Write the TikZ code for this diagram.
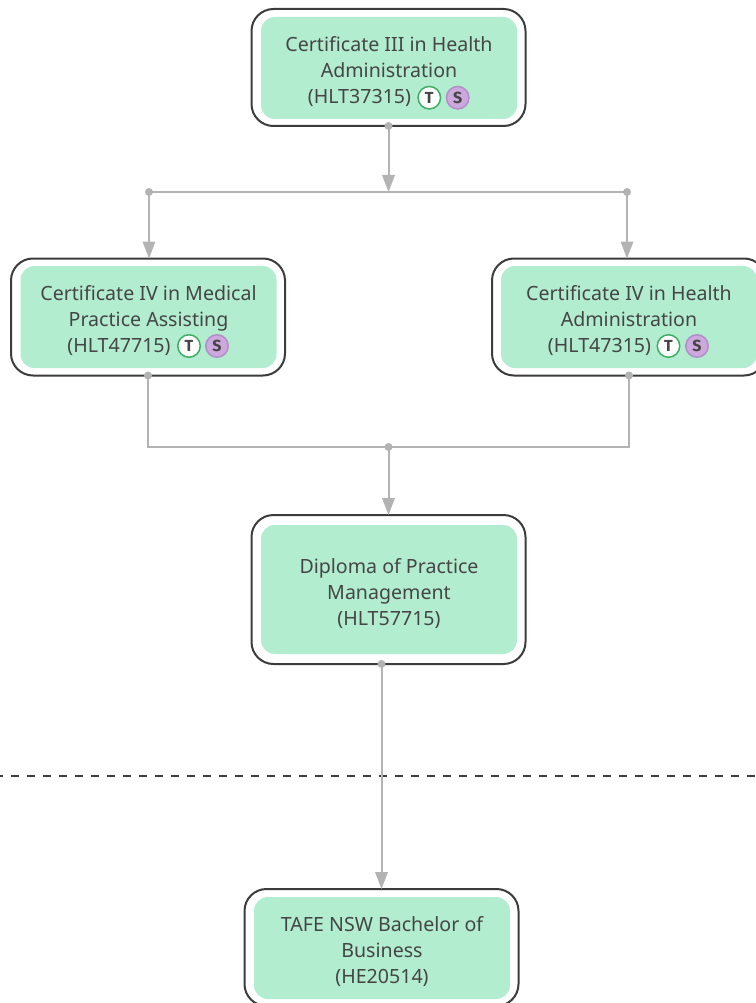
\documentclass[tikz,border=0pt]{standalone}
\usepackage{fontspec}
\setmainfont{Noto Sans}
\newfontfamily\badgefont{Fira Sans}
\usetikzlibrary{arrows.meta}
\definecolor{mintfill}{HTML}{B2EDD0}
\definecolor{boxline}{HTML}{3C3C3C}
\definecolor{textgrey}{HTML}{454545}
\definecolor{linkgrey}{HTML}{B3B3B3}
\definecolor{badgegreen}{HTML}{41AD63}
\definecolor{badgepurple}{HTML}{CDA8DC}
\definecolor{badgeedge}{HTML}{B28FC9}
\tikzset{
  outerbox/.style={draw=boxline, fill=white, line width=2pt, rounded corners=22pt, outer sep=0pt,
    minimum width=274pt, minimum height=117pt},
  innerbox/.style={fill=mintfill, rounded corners=14pt, inner sep=0pt, outer sep=0pt,
    minimum width=256pt, minimum height=102pt},
  boxtext/.style={text=textgrey, align=center, inner sep=0pt, yshift=-4pt, font=\fontsize{19.6}{26}\selectfont},
  badgeT/.style={circle, draw=badgegreen, fill=white, line width=1.5pt, minimum size=22.5pt, inner sep=0pt,
    text=textgrey, font=\fontsize{16}{16}\selectfont\badgefont\bfseries},
  badgeS/.style={badgeT, draw=badgeedge, fill=badgepurple},
  link/.style={draw=linkgrey, line width=2pt},
  arrowlink/.style={link, -{Triangle[length=17pt,width=12.5pt]}},
  dot/.style={circle, fill=linkgrey, minimum size=8pt, inner sep=0pt},
}
\newcommand{\badgespace}{\hspace*{59pt}}
\begin{document}
\begin{tikzpicture}[x=1pt,y=-1pt]
  \useasboundingbox (0,0) rectangle (755,1003);

  % Dashed boundary line
  \coordinate (dashleft) at (0,776);
  \coordinate (dashright) at (755,776);
  \draw [boxline, line width=2pt, dash pattern=on 8.5pt off 7.5pt, dash phase=5.5pt] (dashleft) -- (dashright);

  % Certificate III
  \node [outerbox] (certiiiouter) at (388.5,67.5) {};
  \node [innerbox] (certiii) at (389,68) {};
  \node [boxtext] (certiiitext) at (certiii) {Certificate III in Health\\Administration\\(HLT37315)\badgespace};
  \node [badgeT] (certiiit) at (429.3,97.7) {T};
  \node [badgeS] (certiiis) at (457.7,97.7) {S};

  % Certificate IV, medical
  \node [outerbox] (certmedouter) at (148,317) {};
  \node [innerbox] (certmed) at (148.5,317) {};
  \node [boxtext] (certmedtext) at (certmed) {Certificate IV in Medical\\Practice Assisting\\(HLT47715)\badgespace};
  \node [badgeT] (certmedt) at (189,346) {T};
  \node [badgeS] (certmeds) at (217,346) {S};

  % Certificate IV, administration
  \node [outerbox] (certadmouter) at (629,317) {};
  \node [innerbox] (certadm) at (629,317) {};
  \node [boxtext] (certadmtext) at (certadm) {Certificate IV in Health\\Administration\\(HLT47315)\badgespace};
  \node [badgeT] (certadmt) at (668.5,346) {T};
  \node [badgeS] (certadms) at (697,346) {S};

  % Diploma
  \node [outerbox, minimum height=149pt] (diplomaouter) at (388.5,589.5) {};
  \node [innerbox, minimum height=129pt] (diploma) at (389,589.5) {};
  \node [boxtext] (diplomatext) at (diploma) {Diploma of Practice\\Management\\(HLT57715)};

  % Bachelor
  \node [outerbox] (bachelorouter) at (381.5,947.5) {};
  \node [innerbox] (bachelor) at (382,948) {};
  \node [boxtext] (bachelortext) at (bachelor) {TAFE NSW Bachelor of\\Business\\(HE20514)};

  % Junctions
  \coordinate (topjoin) at (388.5,192);
  \coordinate (leftjoin) at (149,192);
  \coordinate (rightjoin) at (627,192);
  \coordinate (lowjoin) at (388.5,447);

  % Links from Certificate III
  \draw [link] (leftjoin) -- (rightjoin);
  \draw [arrowlink] (certiiiouter.south) -- (topjoin);
  \draw [arrowlink] (leftjoin) -- (leftjoin |- certmedouter.north);
  \draw [arrowlink] (rightjoin) -- (rightjoin |- certadmouter.north);

  % Links into Diploma
  \draw [link] (certmedouter.south) |- (lowjoin) -| (certadmouter.south);
  \draw [arrowlink] (lowjoin) -- (diplomaouter.north);

  % Link into Bachelor
  \draw [arrowlink] (bachelorouter.north |- diplomaouter.south) -- (bachelorouter.north);

  % Dots
  \node [dot] at (certiiiouter.south) {};
  \node [dot] at (leftjoin) {};
  \node [dot] at (rightjoin) {};
  \node [dot] at (certmedouter.south) {};
  \node [dot] at (certadmouter.south) {};
  \node [dot] at (lowjoin) {};
  \node [dot] at (bachelorouter.north |- diplomaouter.south) {};
\end{tikzpicture}
\end{document}
